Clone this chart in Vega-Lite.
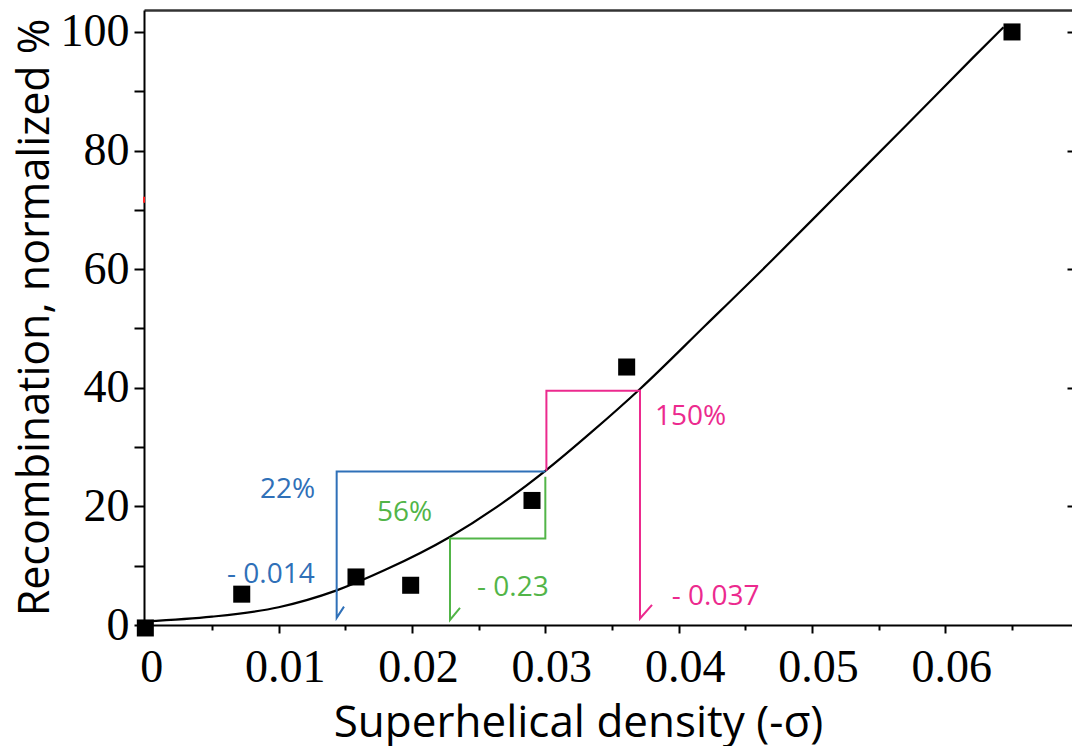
{
  "$schema": "https://vega.github.io/schema/vega-lite/v6.json",
  "width": 928,
  "height": 615,
  "autosize": "none",
  "padding": {"left": 144, "top": 10, "right": 0, "bottom": 121},
  "background": "white",
  "config": {"view": {"stroke": null}},
  "datasets": {
    "pts": [
      {"x": 0, "y": -0.5},
      {"x": 0.00723, "y": 5.2},
      {"x": 0.0158, "y": 8.1},
      {"x": 0.0199, "y": 6.7},
      {"x": 0.029, "y": 21.0},
      {"x": 0.0361, "y": 43.5},
      {"x": 0.065, "y": 100}
    ],
    "curve": [
      {"x": 0, "y": 0.6},
      {"x": 0.005, "y": 1.4},
      {"x": 0.01, "y": 3.0},
      {"x": 0.0143, "y": 5.8},
      {"x": 0.018, "y": 9.3},
      {"x": 0.0228, "y": 14.8},
      {"x": 0.0268, "y": 20.6},
      {"x": 0.03, "y": 26.0},
      {"x": 0.0335, "y": 32.6},
      {"x": 0.0371, "y": 39.8},
      {"x": 0.042, "y": 50.5},
      {"x": 0.047, "y": 61.5},
      {"x": 0.052, "y": 72.8},
      {"x": 0.057, "y": 84.1},
      {"x": 0.062, "y": 95.5},
      {"x": 0.06436, "y": 100.8}
    ],
    "brackets": [
      {"g": "blue", "o": 1, "x": 0.03, "y": 25.9, "c": "#2f70b8"},
      {"g": "blue", "o": 2, "x": 0.01435, "y": 25.9, "c": "#2f70b8"},
      {"g": "blue", "o": 3, "x": 0.01435, "y": 1.2, "c": "#2f70b8"},
      {"g": "blue", "o": 4, "x": 0.0149, "y": 3.1, "c": "#2f70b8"},
      {"g": "green", "o": 1, "x": 0.03, "y": 25.0, "c": "#52b548"},
      {"g": "green", "o": 2, "x": 0.03, "y": 14.6, "c": "#52b548"},
      {"g": "green", "o": 3, "x": 0.02285, "y": 14.6, "c": "#52b548"},
      {"g": "green", "o": 4, "x": 0.02285, "y": 0.85, "c": "#52b548"},
      {"g": "green", "o": 5, "x": 0.0236, "y": 2.9, "c": "#52b548"},
      {"g": "pink", "o": 1, "x": 0.03008, "y": 26.0, "c": "#ec2a8e"},
      {"g": "pink", "o": 2, "x": 0.03008, "y": 39.5, "c": "#ec2a8e"},
      {"g": "pink", "o": 3, "x": 0.0371, "y": 39.5, "c": "#ec2a8e"},
      {"g": "pink", "o": 4, "x": 0.0371, "y": 1.1, "c": "#ec2a8e"},
      {"g": "pink", "o": 5, "x": 0.038, "y": 3.4, "c": "#ec2a8e"}
    ],
    "labels": [
      {"x": 0.0086, "y": 22.8, "t": "22%", "c": "#2f70b8"},
      {"x": 0.00613, "y": 8.4, "t": "- 0.014", "c": "#2f70b8"},
      {"x": 0.01738, "y": 18.9, "t": "56%", "c": "#52b548"},
      {"x": 0.02488, "y": 6.2, "t": "- 0.23", "c": "#52b548"},
      {"x": 0.03823, "y": 35.1, "t": "150%", "c": "#ec2a8e"},
      {"x": 0.03948, "y": 4.8, "t": "- 0.037", "c": "#ec2a8e"}
    ],
    "red": [
      {"x": -0.0001, "y": 71.2, "y2": 72.2}
    ]
  },
  "resolve": {"axis": {"x": "independent", "y": "independent"}},
  "layer": [
    {
      "data": {"name": "curve"},
      "mark": {"type": "line", "interpolate": "monotone", "stroke": "black", "strokeWidth": 2.2},
      "encoding": {
        "x": {
          "field": "x", "type": "quantitative",
          "scale": {"domain": [-0.0001, 0.0695], "nice": false, "zero": false},
          "axis": {
            "orient": "bottom",
            "title": "Superhelical density (-σ)",
            "titleFont": "Open Sans", "titleFontSize": 44, "titleFontWeight": "normal", "titleColor": "black",
            "titleX": 434, "titleY": 111, "titleBaseline": "alphabetic", "titleAlign": "center",
            "values": [0, 0.005, 0.01, 0.015, 0.02, 0.025, 0.03, 0.035, 0.04, 0.045, 0.05, 0.055, 0.06, 0.065],
            "labelExpr": "datum.value === 0 ? '0' : (abs(round(datum.value*100) - datum.value*100) < 0.000001 ? format(datum.value, '.2f') : '')",
            "labelFont": "Liberation Serif", "labelFontSize": 46, "labelColor": "black",
            "labelPadding": 12, "labelOffset": 6, "labelOverlap": false, "labelBound": false, "labelFlush": false,
            "tickSize": {"expr": "abs(round(datum.value*100) - datum.value*100) < 0.000001 ? 8 : 5"},
            "tickWidth": 2, "tickColor": "black",
            "domainColor": "black", "domainWidth": 2,
            "grid": false
          }
        },
        "y": {
          "field": "y", "type": "quantitative",
          "scale": {"domain": [0, 103.7], "nice": false, "zero": false},
          "axis": {
            "orient": "left",
            "title": "Recombination, normalized %",
            "titleFont": "Open Sans", "titleFontSize": 43, "titleFontWeight": "normal", "titleColor": "black",
            "titleX": -96, "titleY": 307, "titleBaseline": "alphabetic", "titleAlign": "center", "titleAngle": 270,
            "values": [0, 10, 20, 30, 40, 50, 60, 70, 80, 90, 100],
            "labelExpr": "datum.value % 20 === 0 ? datum.label : ''",
            "labelFont": "Liberation Serif", "labelFontSize": 46, "labelColor": "black",
            "labelPadding": 5, "labelOverlap": false, "labelBound": false, "labelFlush": false,
            "tickSize": 10, "tickWidth": 2, "tickColor": "black",
            "domainColor": "black", "domainWidth": 2,
            "grid": false
          }
        }
      }
    },
    {
      "data": {"name": "brackets"},
      "mark": {"type": "line", "strokeWidth": 2},
      "encoding": {
        "x": {"field": "x", "type": "quantitative", "axis": null},
        "y": {"field": "y", "type": "quantitative", "axis": null},
        "detail": {"field": "g"},
        "order": {"field": "o", "type": "quantitative"},
        "stroke": {"field": "c", "type": "nominal", "scale": null}
      }
    },
    {
      "data": {"name": "pts"},
      "mark": {"type": "square", "size": 290, "filled": true, "color": "black", "opacity": 1},
      "encoding": {
        "x": {"field": "x", "type": "quantitative", "axis": null},
        "y": {"field": "y", "type": "quantitative", "axis": null}
      }
    },
    {
      "data": {"name": "labels"},
      "mark": {"type": "text", "align": "left", "baseline": "middle", "font": "Open Sans", "fontSize": 28},
      "encoding": {
        "x": {"field": "x", "type": "quantitative", "axis": null},
        "y": {"field": "y", "type": "quantitative", "axis": null},
        "text": {"field": "t"},
        "color": {"field": "c", "type": "nominal", "scale": null}
      }
    },
    {
      "data": {"name": "red"},
      "mark": {"type": "rule", "color": "#ff2020", "strokeWidth": 2},
      "encoding": {
        "x": {
          "field": "x", "type": "quantitative",
          "axis": {"orient": "top", "title": null, "labels": false, "ticks": false, "domain": true, "domainColor": "#333333", "domainWidth": 2.5, "grid": false}
        },
        "y": {
          "field": "y", "type": "quantitative",
          "axis": {"orient": "right", "title": null, "labels": false, "domain": false, "values": [20, 40, 60, 80, 100], "tickSize": -5, "tickWidth": 2, "tickColor": "black", "grid": false}
        },
        "y2": {"field": "y2"}
      }
    }
  ]
}
